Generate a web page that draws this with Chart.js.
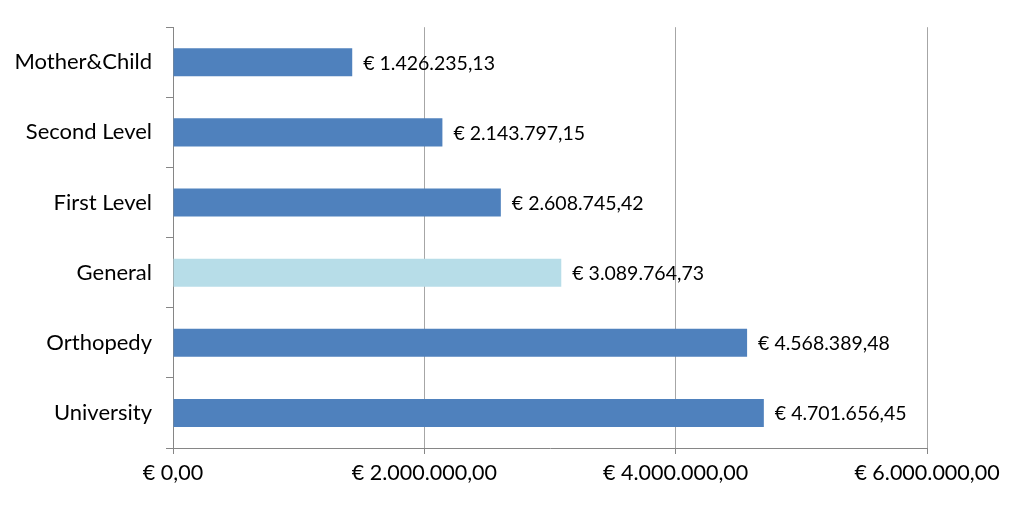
<!DOCTYPE html>
<html><head><meta charset="utf-8">
<script src="https://cdn.jsdelivr.net/npm/chart.js@4"></script>
<style>html,body{margin:0;padding:0;background:#fff}#wrap{width:1024px;height:508px}</style>
</head><body><div id="wrap"><canvas id="c"></canvas></div>
<script>
const categories = ["Mother&Child","Second Level","First Level","General","Orthopedy","University"];
const values = [1426235.13, 2143797.15, 2608745.42, 3089764.73, 4568389.48, 4701656.45];
const barColors = ["#4F81BD","#4F81BD","#4F81BD","#B7DDE8","#4F81BD","#4F81BD"];
const xTicks = [0, 2000000, 4000000, 6000000];

function euro(v){
  const parts = v.toFixed(2).split(".");
  const intPart = parts[0].replace(/\B(?=(\d{3})+(?!\d))/g, ".");
  return "€ " + intPart + "," + parts[1];
}
const FONT = "Lato";
const labelPlugin = {
  id: "barLabels",
  afterDatasetsDraw(chart){
    const ctx = chart.ctx;
    const meta = chart.getDatasetMeta(0);
    ctx.save();
    ctx.font = "19.5px " + FONT;
    ctx.fillStyle = "#000";
    ctx.textAlign = "left";
    ctx.textBaseline = "middle";
    meta.data.forEach((bar, i) => {
      ctx.fillText(euro(values[i]), bar.x + 11, bar.y + 1);
    });
    ctx.restore();
  }
};
new Chart(document.getElementById("c"), {
  type: "bar",
  data: { labels: categories, datasets: [{ data: values, backgroundColor: barColors, categoryPercentage: 1, barPercentage: 0.4 }] },
  options: {
    indexAxis: "y",
    responsive: true, maintainAspectRatio: false, animation: false,
    layout: { padding: { top: 26, right: 97, bottom: 0, left: 0 } },
    plugins: { legend: { display: false }, tooltip: { enabled: false } },
    scales: {
      x: {
        min: 0, max: 6000000,
        afterBuildTicks(s){ s.ticks = xTicks.map(v => ({ value: v })); },
        afterFit(s){ s.height = 60; },
        grid: { color: "#A6A6A6", tickLength: 6, lineWidth: 1, tickColor: "#868686" },
        border: { color: "#868686" },
        ticks: { font: { family: FONT, size: 21.5 }, color: "#000", padding: 6, callback: v => euro(v), maxRotation: 0 }
      },
      y: {
        afterFit(s){ s.width = 173; },
        grid: { drawOnChartArea: false, tickLength: 7, color: "#868686", offset: true },
        border: { color: "#868686" },
        ticks: { font: { family: FONT, size: 22 }, color: "#000", padding: 14 }
      }
    }
  },
  plugins: [labelPlugin]
});
</script></body></html>
